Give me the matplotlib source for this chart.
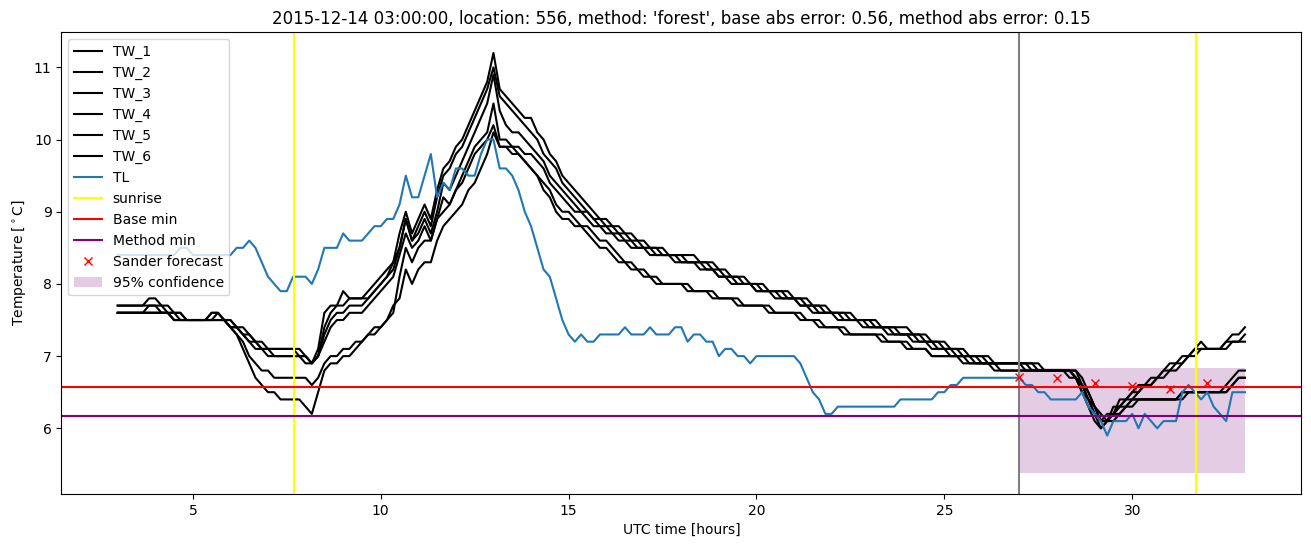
import numpy as np
import matplotlib
matplotlib.use("Agg")
import matplotlib.pyplot as plt

# 10-minute samples from 03:00 to 33:00 UTC hours
hours = np.linspace(3, 33, 181)

tw_1 = [
    7.7, 7.7, 7.7, 7.7, 7.7, 7.8,
    7.8, 7.7, 7.7, 7.6, 7.6, 7.5,
    7.5, 7.5, 7.5, 7.6, 7.6, 7.5,
    7.5, 7.4, 7.3, 7.3, 7.2, 7.2,
    7.1, 7.1, 7.1, 7.1, 7.1, 7.1,
    7.0, 6.9, 7.1, 7.6, 7.7, 7.7,
    7.9, 7.8, 7.8, 7.8, 7.9, 8.0,
    8.1, 8.2, 8.3, 8.7, 9.0, 8.7,
    8.9, 9.1, 8.9, 9.3, 9.6, 9.7,
    9.9, 10.0, 10.2, 10.4, 10.6, 10.8,
    11.2, 10.7, 10.6, 10.5, 10.4, 10.3,
    10.3, 10.1, 10.0, 9.8, 9.7, 9.5,
    9.4, 9.3, 9.2, 9.1, 9.0, 8.9,
    8.9, 8.8, 8.8, 8.7, 8.7, 8.6,
    8.6, 8.5, 8.5, 8.5, 8.4, 8.4,
    8.4, 8.4, 8.4, 8.3, 8.3, 8.3,
    8.2, 8.2, 8.1, 8.1, 8.1, 8.0,
    8.0, 8.0, 7.9, 7.9, 7.9, 7.9,
    7.8, 7.8, 7.8, 7.7, 7.7, 7.7,
    7.6, 7.6, 7.6, 7.6, 7.5, 7.5,
    7.5, 7.5, 7.4, 7.4, 7.4, 7.4,
    7.4, 7.3, 7.3, 7.3, 7.2, 7.2,
    7.2, 7.1, 7.1, 7.1, 7.0, 7.0,
    7.0, 7.0, 6.9, 6.9, 6.9, 6.9,
    6.9, 6.9, 6.9, 6.9, 6.8, 6.8,
    6.8, 6.8, 6.8, 6.8, 6.7, 6.5,
    6.3, 6.2, 6.1, 6.2, 6.4, 6.4,
    6.5, 6.5, 6.6, 6.7, 6.7, 6.8,
    6.8, 6.9, 6.9, 7.0, 7.1, 7.2,
    7.1, 7.1, 7.1, 7.2, 7.3, 7.3,
    7.4,
]

tw_2 = [
    7.7, 7.7, 7.7, 7.7, 7.7, 7.7,
    7.7, 7.7, 7.6, 7.6, 7.6, 7.5,
    7.5, 7.5, 7.5, 7.5, 7.6, 7.5,
    7.5, 7.4, 7.4, 7.3, 7.2, 7.1,
    7.1, 7.1, 7.1, 7.1, 7.1, 7.0,
    7.0, 6.9, 7.0, 7.4, 7.6, 7.7,
    7.7, 7.8, 7.8, 7.8, 7.8, 7.9,
    8.0, 8.1, 8.3, 8.5, 8.9, 8.6,
    8.8, 9.0, 8.8, 9.2, 9.5, 9.6,
    9.8, 9.9, 10.1, 10.3, 10.5, 10.7,
    11.0, 10.6, 10.5, 10.4, 10.3, 10.2,
    10.1, 10.0, 9.8, 9.7, 9.6, 9.4,
    9.3, 9.2, 9.1, 9.0, 8.9, 8.9,
    8.8, 8.8, 8.7, 8.7, 8.6, 8.6,
    8.5, 8.5, 8.5, 8.4, 8.4, 8.4,
    8.4, 8.3, 8.3, 8.3, 8.3, 8.2,
    8.2, 8.1, 8.1, 8.1, 8.0, 8.0,
    8.0, 7.9, 7.9, 7.9, 7.9, 7.8,
    7.8, 7.8, 7.7, 7.7, 7.7, 7.6,
    7.6, 7.6, 7.6, 7.5, 7.5, 7.5,
    7.5, 7.4, 7.4, 7.4, 7.4, 7.3,
    7.3, 7.3, 7.3, 7.2, 7.2, 7.2,
    7.1, 7.1, 7.1, 7.0, 7.0, 7.0,
    7.0, 6.9, 6.9, 6.9, 6.9, 6.9,
    6.9, 6.9, 6.9, 6.8, 6.8, 6.8,
    6.8, 6.8, 6.8, 6.8, 6.6, 6.5,
    6.3, 6.1, 6.1, 6.3, 6.3, 6.4,
    6.5, 6.6, 6.6, 6.6, 6.7, 6.8,
    6.9, 6.9, 7.0, 7.0, 7.1, 7.1,
    7.1, 7.1, 7.1, 7.2, 7.2, 7.2,
    7.3,
]

tw_3 = [
    7.6, 7.6, 7.6, 7.6, 7.6, 7.7,
    7.7, 7.6, 7.6, 7.6, 7.5, 7.5,
    7.5, 7.5, 7.5, 7.6, 7.6, 7.5,
    7.4, 7.4, 7.3, 7.2, 7.2, 7.1,
    7.1, 7.0, 7.0, 7.0, 7.0, 7.0,
    7.0, 6.9, 7.0, 7.3, 7.5, 7.6,
    7.6, 7.7, 7.7, 7.7, 7.8, 7.9,
    8.0, 8.1, 8.2, 8.5, 8.9, 8.6,
    8.7, 8.9, 8.7, 9.0, 9.4, 9.3,
    9.5, 9.7, 9.9, 10.1, 10.3, 10.5,
    10.9, 10.4, 10.2, 10.1, 10.1, 10.0,
    9.9, 9.8, 9.7, 9.5, 9.4, 9.3,
    9.2, 9.1, 9.0, 9.0, 8.9, 8.8,
    8.8, 8.7, 8.7, 8.6, 8.6, 8.5,
    8.5, 8.5, 8.4, 8.4, 8.4, 8.4,
    8.3, 8.3, 8.3, 8.3, 8.2, 8.2,
    8.1, 8.1, 8.1, 8.0, 8.0, 8.0,
    7.9, 7.9, 7.9, 7.9, 7.8, 7.8,
    7.8, 7.7, 7.7, 7.7, 7.6, 7.6,
    7.6, 7.6, 7.5, 7.5, 7.5, 7.5,
    7.4, 7.4, 7.4, 7.4, 7.3, 7.3,
    7.3, 7.3, 7.2, 7.2, 7.2, 7.1,
    7.1, 7.1, 7.0, 7.0, 7.0, 7.0,
    6.9, 6.9, 6.9, 6.9, 6.9, 6.9,
    6.9, 6.9, 6.8, 6.8, 6.8, 6.8,
    6.8, 6.8, 6.8, 6.7, 6.6, 6.4,
    6.3, 6.1, 6.2, 6.2, 6.3, 6.4,
    6.4, 6.5, 6.6, 6.6, 6.7, 6.7,
    6.8, 6.8, 6.9, 7.0, 7.0, 7.1,
    7.1, 7.1, 7.1, 7.1, 7.2, 7.2,
    7.2,
]

tw_4 = [
    7.6, 7.6, 7.6, 7.6, 7.6, 7.6,
    7.6, 7.6, 7.6, 7.5, 7.5, 7.5,
    7.5, 7.5, 7.5, 7.5, 7.5, 7.5,
    7.4, 7.4, 7.3, 7.2, 7.1, 7.1,
    7.0, 7.0, 7.0, 7.0, 7.0, 7.0,
    6.9, 6.9, 7.0, 7.2, 7.4, 7.5,
    7.5, 7.6, 7.6, 7.6, 7.7, 7.8,
    7.9, 8.0, 8.1, 8.4, 8.7, 8.5,
    8.6, 8.8, 8.6, 8.9, 9.2, 9.1,
    9.3, 9.5, 9.7, 9.9, 10.0, 10.1,
    10.5, 10.0, 10.0, 9.9, 9.9, 9.8,
    9.8, 9.7, 9.6, 9.4, 9.3, 9.2,
    9.1, 9.0, 9.0, 8.9, 8.8, 8.8,
    8.7, 8.7, 8.6, 8.6, 8.5, 8.5,
    8.5, 8.4, 8.4, 8.4, 8.4, 8.3,
    8.3, 8.3, 8.3, 8.2, 8.2, 8.2,
    8.1, 8.1, 8.0, 8.0, 8.0, 8.0,
    7.9, 7.9, 7.9, 7.8, 7.8, 7.8,
    7.8, 7.7, 7.7, 7.6, 7.6, 7.6,
    7.6, 7.5, 7.5, 7.5, 7.5, 7.4,
    7.4, 7.4, 7.4, 7.3, 7.3, 7.3,
    7.3, 7.2, 7.2, 7.2, 7.1, 7.1,
    7.1, 7.0, 7.0, 7.0, 7.0, 6.9,
    6.9, 6.9, 6.9, 6.9, 6.9, 6.9,
    6.9, 6.8, 6.8, 6.8, 6.8, 6.8,
    6.8, 6.8, 6.8, 6.7, 6.5, 6.4,
    6.2, 6.1, 6.1, 6.2, 6.3, 6.3,
    6.4, 6.4, 6.4, 6.4, 6.4, 6.4,
    6.4, 6.4, 6.5, 6.5, 6.5, 6.5,
    6.5, 6.5, 6.5, 6.6, 6.7, 6.8,
    6.8,
]

tw_5 = [
    7.6, 7.6, 7.6, 7.6, 7.6, 7.6,
    7.6, 7.6, 7.6, 7.5, 7.5, 7.5,
    7.5, 7.5, 7.5, 7.5, 7.5, 7.5,
    7.4, 7.3, 7.2, 7.0, 6.9, 6.8,
    6.8, 6.7, 6.7, 6.7, 6.7, 6.7,
    6.7, 6.6, 6.7, 6.9, 7.0, 7.0,
    7.1, 7.1, 7.2, 7.2, 7.3, 7.4,
    7.4, 7.5, 7.6, 8.1, 8.5, 8.3,
    8.5, 8.6, 8.6, 8.9, 9.0, 9.1,
    9.3, 9.4, 9.6, 9.8, 9.9, 10.0,
    10.2, 9.9, 9.9, 9.9, 9.8, 9.7,
    9.6, 9.5, 9.4, 9.3, 9.1, 9.0,
    9.0, 8.9, 8.8, 8.8, 8.7, 8.6,
    8.6, 8.5, 8.4, 8.3, 8.3, 8.2,
    8.2, 8.1, 8.1, 8.0, 8.0, 8.0,
    8.0, 8.0, 7.9, 7.9, 7.9, 7.9,
    7.8, 7.8, 7.8, 7.8, 7.7, 7.7,
    7.7, 7.7, 7.7, 7.6, 7.6, 7.6,
    7.6, 7.6, 7.5, 7.5, 7.5, 7.4,
    7.4, 7.4, 7.4, 7.3, 7.3, 7.3,
    7.3, 7.3, 7.3, 7.2, 7.2, 7.2,
    7.2, 7.1, 7.1, 7.1, 7.0, 7.0,
    7.0, 7.0, 7.0, 7.0, 6.9, 6.9,
    6.9, 6.9, 6.9, 6.8, 6.8, 6.8,
    6.8, 6.8, 6.8, 6.8, 6.8, 6.8,
    6.8, 6.8, 6.7, 6.7, 6.5, 6.3,
    6.1, 6.0, 6.1, 6.2, 6.2, 6.3,
    6.3, 6.4, 6.4, 6.4, 6.4, 6.4,
    6.4, 6.4, 6.4, 6.5, 6.5, 6.5,
    6.5, 6.5, 6.5, 6.5, 6.6, 6.7,
    6.7,
]

tw_6 = [
    7.6, 7.6, 7.6, 7.6, 7.6, 7.6,
    7.6, 7.6, 7.6, 7.5, 7.5, 7.5,
    7.5, 7.5, 7.5, 7.5, 7.5, 7.5,
    7.4, 7.3, 7.1, 6.9, 6.7, 6.6,
    6.5, 6.5, 6.4, 6.4, 6.4, 6.4,
    6.3, 6.2, 6.5, 6.8, 6.9, 6.9,
    7.0, 7.0, 7.1, 7.2, 7.3, 7.3,
    7.4, 7.5, 7.7, 7.8, 8.2, 8.0,
    8.2, 8.3, 8.3, 8.6, 8.8, 8.9,
    9.0, 9.1, 9.3, 9.4, 9.6, 9.8,
    10.1, 9.9, 9.9, 9.8, 9.8, 9.7,
    9.6, 9.5, 9.3, 9.2, 9.0, 8.9,
    8.9, 8.8, 8.8, 8.7, 8.6, 8.5,
    8.5, 8.4, 8.3, 8.3, 8.2, 8.2,
    8.1, 8.1, 8.0, 8.0, 8.0, 8.0,
    8.0, 7.9, 7.9, 7.9, 7.9, 7.8,
    7.8, 7.8, 7.8, 7.7, 7.7, 7.7,
    7.7, 7.7, 7.6, 7.6, 7.6, 7.6,
    7.6, 7.5, 7.5, 7.5, 7.4, 7.4,
    7.4, 7.4, 7.3, 7.3, 7.3, 7.3,
    7.3, 7.3, 7.2, 7.2, 7.2, 7.2,
    7.1, 7.1, 7.1, 7.1, 7.0, 7.0,
    7.0, 7.0, 7.0, 6.9, 6.9, 6.9,
    6.9, 6.9, 6.8, 6.8, 6.8, 6.8,
    6.8, 6.8, 6.8, 6.8, 6.8, 6.8,
    6.8, 6.8, 6.8, 6.7, 6.6, 6.4,
    6.2, 6.0, 6.1, 6.1, 6.2, 6.3,
    6.4, 6.4, 6.4, 6.4, 6.4, 6.4,
    6.4, 6.4, 6.5, 6.5, 6.5, 6.5,
    6.5, 6.5, 6.5, 6.5, 6.6, 6.7,
    6.7,
]

tl = [
    8.4, 8.4, 8.4, 8.4, 8.4, 8.4,
    8.4, 8.4, 8.4, 8.4, 8.5, 8.5,
    8.4, 8.4, 8.4, 8.4, 8.4, 8.4,
    8.4, 8.5, 8.5, 8.6, 8.5, 8.3,
    8.1, 8.0, 7.9, 7.9, 8.1, 8.1,
    8.1, 8.0, 8.2, 8.5, 8.5, 8.5,
    8.7, 8.6, 8.6, 8.6, 8.7, 8.8,
    8.8, 8.9, 8.9, 9.1, 9.5, 9.2,
    9.2, 9.5, 9.8, 9.2, 9.4, 9.3,
    9.6, 9.6, 9.5, 9.5, 9.8, 10.0,
    10.0, 9.6, 9.6, 9.5, 9.3, 9.0,
    8.8, 8.5, 8.2, 8.1, 7.8, 7.5,
    7.3, 7.2, 7.3, 7.2, 7.2, 7.3,
    7.3, 7.3, 7.3, 7.4, 7.3, 7.3,
    7.3, 7.4, 7.3, 7.3, 7.3, 7.4,
    7.4, 7.2, 7.3, 7.3, 7.2, 7.2,
    7.0, 7.1, 7.1, 7.0, 7.0, 6.9,
    7.0, 7.0, 7.0, 7.0, 7.0, 7.0,
    7.0, 6.9, 6.7, 6.5, 6.4, 6.2,
    6.2, 6.3, 6.3, 6.3, 6.3, 6.3,
    6.3, 6.3, 6.3, 6.3, 6.3, 6.4,
    6.4, 6.4, 6.4, 6.4, 6.4, 6.5,
    6.5, 6.6, 6.6, 6.7, 6.7, 6.7,
    6.7, 6.7, 6.7, 6.7, 6.7, 6.7,
    6.7, 6.6, 6.6, 6.5, 6.5, 6.4,
    6.4, 6.4, 6.4, 6.4, 6.5, 6.3,
    6.2, 6.1, 5.9, 6.1, 6.1, 6.1,
    6.2, 6.0, 6.2, 6.1, 6.0, 6.1,
    6.1, 6.1, 6.5, 6.6, 6.5, 6.4,
    6.5, 6.3, 6.2, 6.1, 6.5, 6.5,
    6.5,
]

sunrise_hours = [7.70, 31.71]
forecast_start = 27.0
base_min = 6.57
method_min = 6.17

sander_hours = [27, 28, 29, 30, 31, 32]
sander_values = [6.71, 6.69, 6.63, 6.58, 6.55, 6.63]

conf_hours = [27.0, 33.0]
conf_low = 5.38
conf_high = 6.83

fig, ax = plt.subplots(figsize=(13.11, 5.47), dpi=100)
fig.subplots_adjust(left=0.0468, right=0.9926, top=0.9415, bottom=0.0969)

for i, series in enumerate([tw_1, tw_2, tw_3, tw_4, tw_5, tw_6], start=1):
    ax.plot(hours, series, color="black", label=f"TW_{i}")
ax.plot(hours, tl, color="tab:blue", label="TL")

ax.axvline(sunrise_hours[0], color="yellow", label="sunrise")
ax.axvline(sunrise_hours[1], color="yellow")
ax.axvline(forecast_start, color="gray")
ax.axhline(base_min, color="red", label="Base min")
ax.axhline(method_min, color="purple", label="Method min")
ax.plot(sander_hours, sander_values, "x", color="red", label="Sander forecast")
ax.fill_between(conf_hours, conf_low, conf_high, color="purple", alpha=0.2,
                linewidth=0, label="95% confidence")

ax.set_xlim(1.5, 34.5)
ax.set_ylim(5.09, 11.49)
ax.set_xlabel("UTC time [hours]")
ax.set_ylabel("Temperature [$^\\circ$C]")
ax.set_title("2015-12-14 03:00:00, location: 556, method: 'forest', "
             "base abs error: 0.56, method abs error: 0.15")
ax.legend(loc="upper left")

fig.savefig("out.png", dpi=100)
